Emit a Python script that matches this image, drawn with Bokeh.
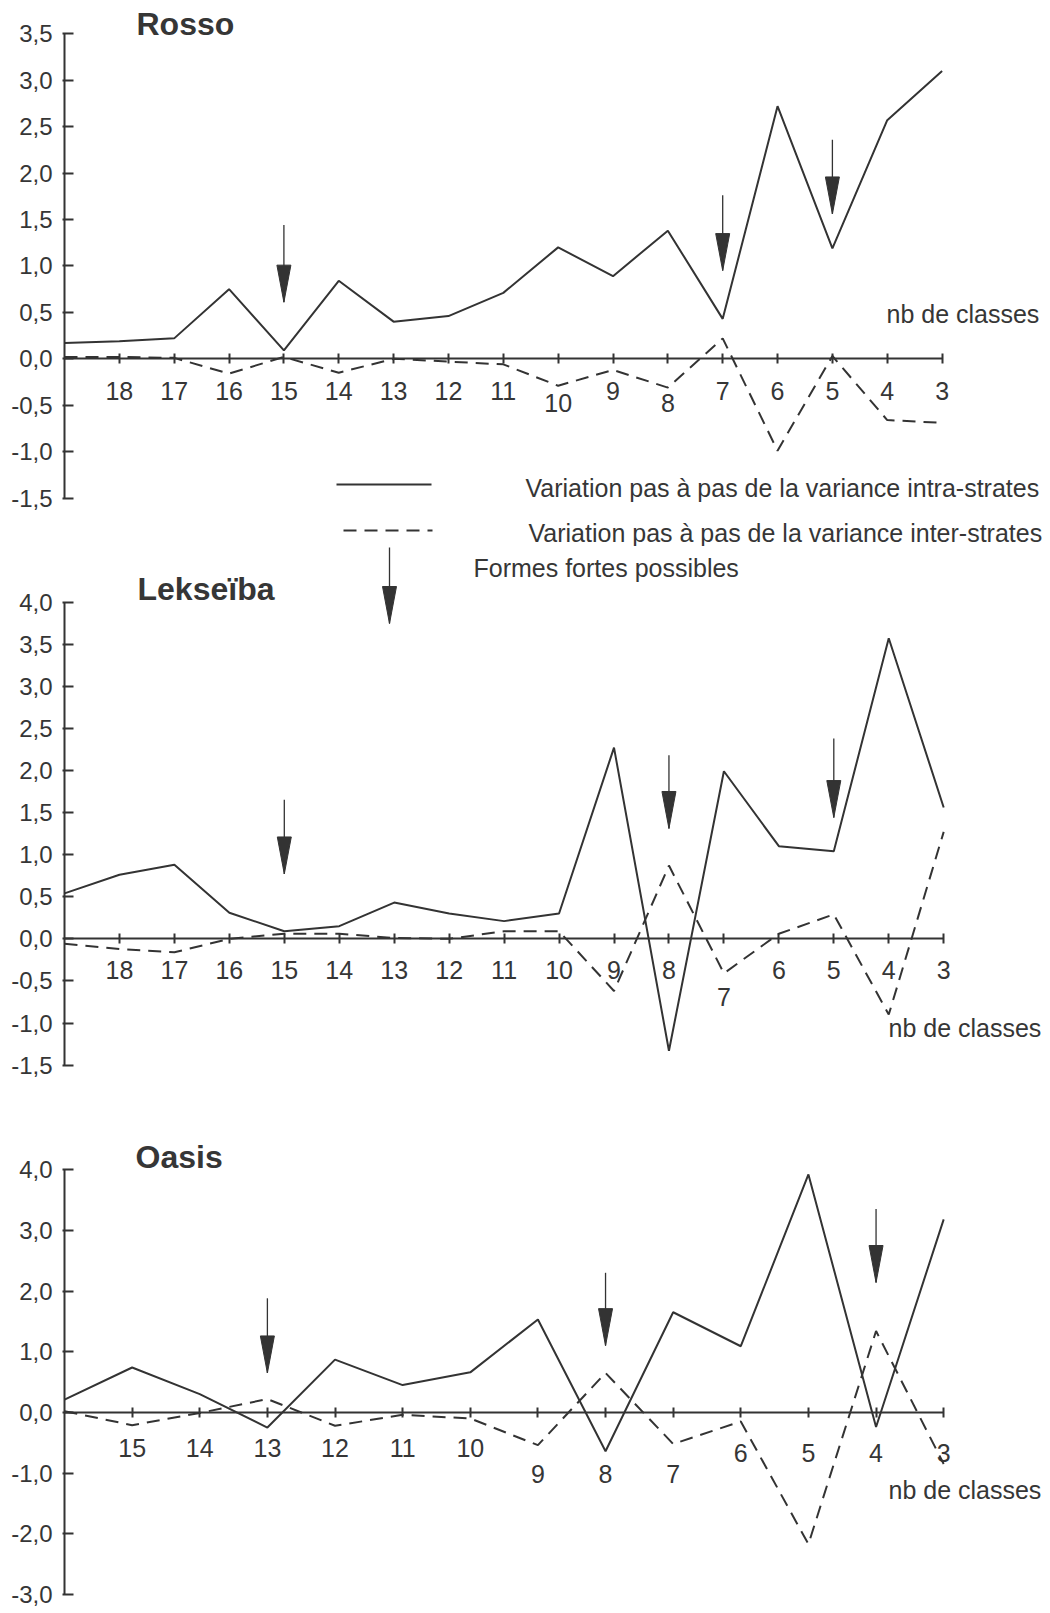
from bokeh.plotting import figure
from bokeh.layouts import column
from bokeh.models import Range1d, FixedTicker, Label, ColumnDataSource
from bokeh.embed import file_html
from bokeh.resources import INLINE
from bokeh.core.properties import value

# ---------------- data ----------------
classes_rl = [19, 18, 17, 16, 15, 14, 13, 12, 11, 10, 9, 8, 7, 6, 5, 4, 3]
rosso_intra = [0.17, 0.19, 0.22, 0.75, 0.09, 0.84, 0.40, 0.46, 0.71, 1.20, 0.89, 1.38, 0.43, 2.72, 1.19, 2.57, 3.10]
rosso_inter = [0.02, 0.02, 0.01, -0.16, 0.02, -0.15, 0.00, -0.03, -0.06, -0.29, -0.12, -0.31, 0.22, -0.99, 0.03, -0.66, -0.69]
lek_intra = [0.54, 0.76, 0.88, 0.31, 0.09, 0.15, 0.43, 0.30, 0.21, 0.30, 2.27, -1.33, 1.99, 1.10, 1.04, 3.57, 1.56]
lek_inter = [-0.06, -0.12, -0.16, 0.00, 0.06, 0.06, 0.01, 0.00, 0.09, 0.09, -0.62, 0.87, -0.41, 0.06, 0.29, -0.90, 1.27]
classes_oasis = [16, 15, 14, 13, 12, 11, 10, 9, 8, 7, 6, 5, 4, 3]
oasis_intra = [0.21, 0.74, 0.30, -0.25, 0.87, 0.45, 0.66, 1.53, -0.64, 1.65, 1.09, 3.92, -0.24, 3.18]
oasis_inter = [0.02, -0.21, -0.01, 0.22, -0.22, -0.04, -0.10, -0.54, 0.65, -0.52, -0.15, -2.17, 1.34, -0.85]

# arrows ("formes fortes possibles"): class, tip value, tail value
rosso_arrow_cls = [15, 7, 5]
rosso_arrow_tip = [0.61, 0.95, 1.56]
rosso_arrow_tail = [1.44, 1.76, 2.36]
lek_arrow_cls = [15, 8, 5]
lek_arrow_tip = [0.77, 1.31, 1.44]
lek_arrow_tail = [1.65, 2.18, 2.38]
oasis_arrow_cls = [13, 8, 4]
oasis_arrow_tip = [0.65, 1.10, 2.14]
oasis_arrow_tail = [1.88, 2.30, 3.35]

rosso_yticks = [3.5, 3.0, 2.5, 2.0, 1.5, 1.0, 0.5, 0.0, -0.5, -1.0, -1.5]
rosso_ylabels = ["3,5", "3,0", "2,5", "2,0", "1,5", "1,0", "0,5", "0,0", "-0,5", "-1,0", "-1,5"]
lek_yticks = [4.0, 3.5, 3.0, 2.5, 2.0, 1.5, 1.0, 0.5, 0.0, -0.5, -1.0, -1.5]
lek_ylabels = ["4,0", "3,5", "3,0", "2,5", "2,0", "1,5", "1,0", "0,5", "0,0", "-0,5", "-1,0", "-1,5"]
oasis_yticks = [4.0, 3.0, 2.0, 1.0, 0.0, -1.0, -2.0, -3.0]
oasis_ylabels = ["4,0", "3,0", "2,0", "1,0", "0,0", "-1,0", "-2,0", "-3,0"]

rl_xticks = [18, 17, 16, 15, 14, 13, 12, 11, 10, 9, 8, 7, 6, 5, 4, 3]
rl_xlabels = ["18", "17", "16", "15", "14", "13", "12", "11", "10", "9", "8", "7", "6", "5", "4", "3"]
oasis_xticks = [15, 14, 13, 12, 11, 10, 9, 8, 7, 6, 5, 4, 3]
oasis_xlabels = ["15", "14", "13", "12", "11", "10", "9", "8", "7", "6", "5", "4", "3"]

titles = ["Rosso", "Lekseïba", "Oasis"]
xaxis_title = "nb de classes"
legend_texts = ["Variation pas à pas de la variance intra-strates",
                "Variation pas à pas de la variance inter-strates",
                "Formes fortes possibles"]

# ---------------- style / layout ----------------
INK = "#333333"
TXT = "#363636"
FONT = "Liberation Sans"
PAGE_W = 1050
DASH = "13 8"

# page-pixel layout of each panel
panels = [
    dict(top=0, height=546, axis_px=64, x_first=19, ppx=54.85, zero_py=358.3, ppy=92.86,
         lab_main=32, lab_low={"10": 44, "8": 44},
         title_px=(136, 23), nb_px=(886, 313)),
    dict(top=546, height=554, axis_px=62, x_first=19, ppx=54.95, zero_py=938.3, ppy=84.2,
         lab_main=31, lab_low={"7": 58},
         title_px=(135, 588), nb_px=(886, 1027)),
    dict(top=1100, height=512, axis_px=61, x_first=16, ppx=67.63, zero_py=1411.9, ppy=60.7,
         lab_main=36, lab_low={"9": 62, "8": 62, "7": 62, "6": 41, "5": 41, "4": 41, "3": 41},
         title_px=(132, 1156), nb_px=(885, 1489)),
]

HEAD_LEN = 37
HEAD_W = 14


def make_panel(cfg, title, classes, intra, inter, yticks, ylabels, xticks, xlabels,
               a_cls, a_tip, a_tail):
    fl = cfg["axis_px"]
    fw = PAGE_W - fl
    fh = cfg["height"]
    x0 = cfg["x_first"]
    X = lambda px: x0 - (px - cfg["axis_px"]) / cfg["ppx"]
    Y = lambda py: (cfg["zero_py"] - py) / cfg["ppy"]
    p = figure(frame_width=fw, frame_height=fh,
               x_range=Range1d(x0, X(cfg["axis_px"] + fw)),
               y_range=Range1d(Y(cfg["top"] + fh), Y(cfg["top"])),
               output_backend="svg", toolbar_location=None,
               min_border_left=fl, min_border_right=0, min_border_top=0, min_border_bottom=0)
    p.xgrid.visible = False
    p.ygrid.visible = False
    p.outline_line_color = None
    p.background_fill_color = "white"
    p.border_fill_color = "white"

    yax = p.yaxis[0]
    yax.ticker = FixedTicker(ticks=yticks)
    yax.major_label_overrides = {t: s for t, s in zip(yticks, ylabels)}
    yax.bounds = (min(yticks), max(yticks))
    yax.minor_tick_line_color = None
    yax.major_tick_in = 9
    yax.major_tick_out = 2
    yax.major_label_standoff = 10
    yax.axis_line_width = 2
    yax.axis_line_color = INK
    yax.major_tick_line_width = 2
    yax.major_tick_line_color = INK
    yax.major_label_text_font = FONT
    yax.major_label_text_font_size = "24px"
    yax.major_label_text_color = TXT

    xax = p.xaxis[0]
    xax.fixed_location = 0
    xax.ticker = FixedTicker(ticks=xticks)
    xax.bounds = (min(xticks), x0)
    xax.minor_tick_line_color = None
    xax.major_tick_in = 5
    xax.major_tick_out = 5
    xax.axis_line_width = 2
    xax.axis_line_color = INK
    xax.major_tick_line_width = 2
    xax.major_tick_line_color = INK
    xax.major_label_text_font_size = "0px"
    xax.major_label_text_alpha = 0

    # x tick labels (some are set lower, as in the original)
    dy = [cfg["lab_low"].get(s, cfg["lab_main"]) for s in xlabels]
    src = ColumnDataSource(dict(x=xticks, y=[0.0] * len(xticks), text=xlabels, dy=dy))
    p.text(x="x", y="y", text="text", y_offset="dy", source=src, text_align="center",
           text_baseline="middle", text_font=value(FONT), text_font_size="25px", text_color=TXT)

    # series
    p.line(classes, intra, line_width=2, line_color=INK)
    p.line(classes, inter, line_width=2, line_color=INK, line_dash=DASH)

    # arrows
    hl = HEAD_LEN / cfg["ppy"]
    hw = HEAD_W / cfg["ppx"] / 2
    p.segment(x0=a_cls, y0=a_tail, x1=a_cls, y1=a_tip, line_width=1.3, line_color=INK)
    p.patches(xs=[[c - hw, c + hw, c] for c in a_cls],
              ys=[[t + hl, t + hl, t] for t in a_tip],
              fill_color=INK, line_color=INK, line_width=1)

    tx, ty = cfg["title_px"]
    p.add_layout(Label(x=X(tx), y=Y(ty), text=title, text_font=FONT, text_font_style="bold",
                       text_font_size="32px", text_color=TXT, text_baseline="middle", text_align="left"))
    nx, ny = cfg["nb_px"]
    p.add_layout(Label(x=X(nx), y=Y(ny), text=xaxis_title, text_font=FONT,
                       text_font_size="25px", text_color=TXT, text_baseline="middle", text_align="left"))
    return p, X, Y


p1, X1, Y1 = make_panel(panels[0], titles[0], classes_rl, rosso_intra, rosso_inter,
                        rosso_yticks, rosso_ylabels, rl_xticks, rl_xlabels,
                        rosso_arrow_cls, rosso_arrow_tip, rosso_arrow_tail)
p2, X2, Y2 = make_panel(panels[1], titles[1], classes_rl, lek_intra, lek_inter,
                        lek_yticks, lek_ylabels, rl_xticks, rl_xlabels,
                        lek_arrow_cls, lek_arrow_tip, lek_arrow_tail)
p3, X3, Y3 = make_panel(panels[2], titles[2], classes_oasis, oasis_intra, oasis_inter,
                        oasis_yticks, oasis_ylabels, oasis_xticks, oasis_xlabels,
                        oasis_arrow_cls, oasis_arrow_tip, oasis_arrow_tail)

# ---------------- legend (between Rosso and Lekseïba) ----------------
p1.segment(x0=[X1(336)], y0=[Y1(484)], x1=[X1(431)], y1=[Y1(484)], line_width=2, line_color=INK)
p1.segment(x0=[X1(343)], y0=[Y1(530)], x1=[X1(432)], y1=[Y1(530)], line_width=2,
           line_color=INK, line_dash=DASH)
p1.add_layout(Label(x=X1(525), y=Y1(487), text=legend_texts[0], text_font=FONT,
                    text_font_size="25px", text_color=TXT, text_baseline="middle"))
p1.add_layout(Label(x=X1(528), y=Y1(532), text=legend_texts[1], text_font=FONT,
                    text_font_size="25px", text_color=TXT, text_baseline="middle"))
lx = X2(387)
hl2 = HEAD_LEN / panels[1]["ppy"]
hw2 = HEAD_W / panels[1]["ppx"] / 2
p2.segment(x0=[lx], y0=[Y2(547)], x1=[lx], y1=[Y2(623)], line_width=1.3, line_color=INK)
p2.patches(xs=[[lx - hw2, lx + hw2, lx]], ys=[[Y2(623) + hl2, Y2(623) + hl2, Y2(623)]],
           fill_color=INK, line_color=INK, line_width=1)
p2.add_layout(Label(x=X2(471), y=Y2(567), text=legend_texts[2], text_font=FONT,
                    text_font_size="25px", text_color=TXT, text_baseline="middle"))

layout = column(p1, p2, p3, spacing=0)
open("out.html", "w").write(file_html(layout, INLINE))
